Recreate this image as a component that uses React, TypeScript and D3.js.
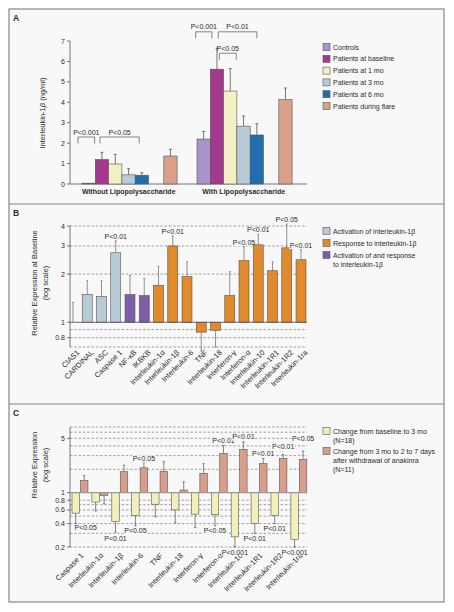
import React from 'react';
import * as d3 from 'd3';

// ---------- Panel A data ----------
const groupsA = ['Without Lipopolysaccharide', 'With Lipopolysaccharide'];
const seriesA = ['Controls', 'Patients at baseline', 'Patients at 1 mo', 'Patients at 3 mo', 'Patients at 6 mo', 'Patients during flare'];
const withoutLPS = [0.04, 1.2, 0.98, 0.45, 0.43, 1.37];
const withoutLPSErr = [0.04, 1.55, 1.45, 0.75, 0.55, 1.7];
const withLPS = [2.2, 5.62, 4.55, 2.83, 2.4, 4.13];
const withLPSErr = [2.57, 6.65, 5.65, 3.33, 2.95, 4.7];
const ticksA = [0, 1, 2, 3, 4, 5, 6, 7];
const bracketsA = [
  { group: 0, from: -0.3, to: 0.95, level: 2.3, label: 'P<0.001' },
  { group: 0, from: 1.35, to: 4.3, level: 2.3, label: 'P<0.05' },
  { group: 1, from: -0.1, to: 1.12, level: 7.45, label: 'P<0.001' },
  { group: 1, from: 1.6, to: 4.5, level: 7.45, label: 'P<0.01' },
  { group: 1, from: 1.68, to: 2.95, level: 6.4, label: 'P<0.05' },
];
const colorsA = ['#a894c8', '#a5378e', '#f3f0c4', '#b9cbd6', '#1f6fae', '#d9a18a'];

// ---------- Panel B data ----------
const categoriesB = ['CIAS1', 'CARDINAL', 'ASC', 'Caspase 1', 'NF-κB', 'IKBKB', 'Interleukin-1α', 'Interleukin-1β', 'Interleukin-6', 'TNF', 'Interleukin-18', 'Interferon-γ', 'Interferon-α', 'Interleukin-10', 'Interleukin-1R1', 'Interleukin-1R2', 'Interleukin-1ra'];
const roleB = [0, 0, 0, 0, 2, 2, 1, 1, 1, 1, 1, 1, 1, 1, 1, 1, 1];
const valuesB = [1.0, 1.49, 1.45, 2.72, 1.49, 1.47, 1.7, 3.0, 1.93, 0.867, 0.89, 1.47, 2.43, 3.05, 2.1, 2.92, 2.46];
const errB = [1.33, 1.82, 1.82, 3.23, 1.96, 1.88, 2.23, 3.47, 2.39, 0.66, 0.7, 2.07, 2.96, 3.55, 2.39, 4.12, 2.84];
const pB = ['', '', '', 'P<0.01', '', '', '', 'P<0.01', '', '', '', '', 'P<0.05', 'P<0.01', '', 'P<0.05', 'P<0.01'];
const legendB = ['Activation of interleukin-1β', 'Response to interleukin-1β', 'Activation of and response|to interleukin-1β'];
const colorsB = ['#b8ccd8', '#e08a2b', '#7d5ea8'];
const gridB = [4, 3, 2, 0.9, 0.8, 0.7];
const ticksB = [4, 3, 2, 1, 0.8];

// ---------- Panel C data ----------
const categoriesC = ['Caspase 1', 'Interleukin-1α', 'Interleukin-1β', 'Interleukin-6', 'TNF', 'Interleukin-18', 'Interferon-γ', 'Interferon-α', 'Interleukin-10', 'Interleukin-1R1', 'Interleukin-1R2', 'Interleukin-1ra'];
const baseTo3 = [0.545, 0.757, 0.425, 0.51, 0.71, 0.6, 0.53, 0.52, 0.27, 0.4, 0.51, 0.25];
const baseTo3Err = [0.4, 0.58, 0.31, 0.375, 0.49, 0.41, 0.355, 0.375, 0.2, 0.3, 0.4, 0.2];
const withdrawal = [1.43, 0.92, 1.86, 2.09, 1.89, 1.08, 1.77, 3.2, 3.58, 2.36, 2.74, 2.68];
const withdrawalErr = [1.66, 0.72, 2.26, 2.55, 2.5, 1.38, 2.36, 4.08, 4.5, 2.76, 3.1, 3.43];
const pBaseTo3 = ['P<0.05', '', 'P<0.01', 'P<0.05', '', '', '', 'P<0.05', 'P<0.001', 'P<0.01', 'P<0.01', 'P<0.001'];
const pWithdrawal = ['', '', '', 'P<0.05', '', '', '', 'P<0.01', 'P<0.01', 'P<0.01', 'P<0.01', 'P<0.05'];
// label nudges (px) for annotation placement
const pBaseTo3Shift = [[10, 4], [0, 5], [0, 6.6], [0, 5], [0, 5], [0, 5], [0, 5], [0, 5], [0, 5], [0, 5], [0, 4.5], [0, 5]];
const pWithdrawalShift = [[0, -4], [0, -4], [0, -4], [0, -2.7], [0, -4], [0, -4], [0, -4], [0, -4.3], [0, -5], [0, -4.7], [0, -8], [0, -12.7]];
const legendC = ['Change from baseline to 3 mo|(N=18)', 'Change from 3 mo to 2 to 7 days|after withdrawal of anakinra|(N=11)'];
const colorsC = ['#f2efb8', '#d99e8a'];
const gridC = [7, 6, 5, 4, 3, 2, 0.8, 0.7, 0.6, 0.5, 0.4, 0.3, 0.2];
const ticksC = [5, 1, 0.8, 0.6, 0.4, 0.2];

const FONT = '"Liberation Sans", Arial, sans-serif';
const TXT = '#2b2b2b';
const BG = '#f8f8f8';
const OUT = '#555';

function PLabel({ x, y, text, knock }: { x: number; y: number; text: string; knock?: boolean }) {
  const w = text.length * 3.75;
  return (
    <g>
      {knock && <rect x={x - w / 2 - 0.5} y={y - 5.5} width={w + 1} height={6.5} fill={BG} />}
      <text x={x} y={y} textAnchor="middle" fontSize={7} fill={TXT}>{text}</text>
    </g>
  );
}

function Legend({ x, y, items, colors, step, lineStep }: { x: number; y: number; items: string[]; colors: string[]; step: number[]; lineStep: number }) {
  return (
    <g>
      {items.map((it, i) => {
        const lines = it.split('|');
        return (
          <g key={i} transform={`translate(${x},${y + step[i]})`}>
            <rect x={0} y={-3.5} width={7} height={7} fill={colors[i]} stroke={OUT} strokeWidth={0.6} />
            {lines.map((l, j) => (
              <text key={j} x={10} y={2.5 + j * lineStep} fontSize={7} fill={TXT}>{l}</text>
            ))}
          </g>
        );
      })}
    </g>
  );
}

function PanelA() {
  const y = d3.scaleLinear().domain([0, 7]).range([184, 41]);
  const gx = d3.scaleBand().domain(groupsA).range([82, 312]);
  const unit = 13.3;
  const slot = [0, 1, 2, 3, 4, 6.15];
  const data = [withoutLPS, withLPS];
  const errs = [withoutLPSErr, withLPSErr];
  return (
    <g>
      <text x={13} y={21} fontSize={8.5} fontWeight="bold" fill={TXT}>A</text>
      <line x1={70} x2={70} y1={y(7)} y2={y(0)} stroke={OUT} strokeWidth={0.8} />
      <line x1={70} x2={307} y1={y(0)} y2={y(0)} stroke={OUT} strokeWidth={0.8} />
      {ticksA.map(t => (
        <g key={t}>
          <line x1={67} x2={70} y1={y(t)} y2={y(t)} stroke={OUT} strokeWidth={0.8} />
          <text x={65} y={y(t) + 2.5} fontSize={7} textAnchor="end" fill={TXT}>{t}</text>
        </g>
      ))}
      <text transform={`translate(45,113) rotate(-90)`} fontSize={7.5} textAnchor="middle" fill={TXT}>
        Interleukin-1<tspan fontStyle="italic">β</tspan> (ng/ml)
      </text>
      {groupsA.map((g, gi) => {
        const x0 = gx(g)!;
        return (
          <g key={g}>
            {data[gi].map((v, i) => {
              const bx = x0 + slot[i] * unit;
              const cx = bx + unit / 2;
              return (
                <g key={i}>
                  {errs[gi][i] > v && (
                    <g>
                      <line x1={cx} x2={cx} y1={y(v)} y2={y(errs[gi][i])} stroke={OUT} strokeWidth={0.8} />
                      <line x1={cx - 1.5} x2={cx + 1.5} y1={y(errs[gi][i])} y2={y(errs[gi][i])} stroke={OUT} strokeWidth={0.8} />
                    </g>
                  )}
                  <rect x={bx} y={y(v)} width={unit} height={y(0) - y(v)} fill={colorsA[i]} stroke={OUT} strokeWidth={0.6} />
                </g>
              );
            })}
            <text x={x0 + 3.55 * unit - 0.5} y={194} fontSize={7} fontWeight="bold" textAnchor="middle" fill={TXT}>{g}</text>
          </g>
        );
      })}
      {bracketsA.map((b, i) => {
        const x0 = gx(groupsA[b.group])!;
        const x1 = x0 + b.from * unit;
        const x2 = x0 + b.to * unit;
        const yt = y(b.level);
        return (
          <g key={i}>
            <path d={`M${x1},${yt + 6.5}V${yt}H${x2}V${yt + 6.5}`} fill="none" stroke={OUT} strokeWidth={0.7} />
            <text x={(x1 + x2) / 2} y={yt - 2.5} fontSize={7} textAnchor="middle" fill={TXT}>{b.label}</text>
          </g>
        );
      })}
      <Legend x={323} y={47} items={seriesA} colors={colorsA} step={[0, 11.8, 23.6, 35.4, 47.2, 59]} lineStep={9} />
    </g>
  );
}

function PanelB() {
  const y = d3.scaleLog().domain([0.7, 4]).range([347, 226]);
  const x = d3.scaleBand().domain(categoriesB).range([68, 306]).paddingInner(0.3).paddingOuter(0);
  const bw = x.bandwidth();
  return (
    <g>
      <text x={13} y={216} fontSize={8.5} fontWeight="bold" fill={TXT}>B</text>
      {gridB.map(g => (
        <line key={g} x1={70} x2={307} y1={y(g)} y2={y(g)} stroke="#666" strokeWidth={0.6} strokeDasharray="2.5,1.8" />
      ))}
      <line x1={70} x2={70} y1={y(4)} y2={y(0.7)} stroke={OUT} strokeWidth={0.8} />
      {ticksB.map(t => (
        <g key={t}>
          <line x1={67} x2={70} y1={y(t)} y2={y(t)} stroke={OUT} strokeWidth={0.8} />
          <text x={65} y={y(t) + 2.5} fontSize={7} textAnchor="end" fill={TXT}>{t}</text>
        </g>
      ))}
      <text transform={`translate(37,283) rotate(-90)`} fontSize={7.5} textAnchor="middle" fill={TXT}>Relative Expression at Baseline</text>
      <text transform={`translate(48,283) rotate(-90)`} fontSize={7.5} textAnchor="middle" fill={TXT}>(log scale)</text>
      {categoriesB.map((c, i) => {
        const bx = x(c)!;
        const cx = bx + bw / 2;
        const v = valuesB[i];
        const e = errB[i];
        const top = Math.min(y(v), y(1));
        const h = Math.abs(y(v) - y(1));
        return (
          <g key={c}>
            <line x1={cx} x2={cx} y1={y(v)} y2={y(e)} stroke="#777" strokeWidth={0.8} />
            <line x1={cx - 1} x2={cx + 1} y1={y(e)} y2={y(e)} stroke="#777" strokeWidth={0.8} />
            {h > 0.3 && <rect x={bx} y={top} width={bw} height={h} fill={colorsB[roleB[i]]} stroke={OUT} strokeWidth={0.6} />}
            {pB[i] && <PLabel x={cx} y={y(e) - 1.8} text={pB[i]} knock />}
            <text transform={`translate(${cx + 7},353) rotate(-45)`} fontSize={7.5} textAnchor="end" fill={TXT}>{c}</text>
          </g>
        );
      })}
      <line x1={70} x2={307} y1={y(1)} y2={y(1)} stroke={OUT} strokeWidth={0.9} />
      <Legend x={323} y={231} items={legendB} colors={colorsB} step={[0, 12, 24]} lineStep={9} />
    </g>
  );
}

function PanelC() {
  const y = d3.scaleLog().domain([0.2, 7]).range([547, 427]);
  const x = d3.scaleBand().domain(categoriesC).range([72, 306.8]).paddingInner(0.2).paddingOuter(0);
  const sub = d3.scaleBand().domain(['a', 'b']).range([0, x.bandwidth()]).paddingInner(0.12);
  const sw = sub.bandwidth();
  const series = [
    { key: 'a', v: baseTo3, e: baseTo3Err, p: pBaseTo3, s: pBaseTo3Shift, color: colorsC[0] },
    { key: 'b', v: withdrawal, e: withdrawalErr, p: pWithdrawal, s: pWithdrawalShift, color: colorsC[1] },
  ];
  return (
    <g>
      <text x={13} y={416} fontSize={8.5} fontWeight="bold" fill={TXT}>C</text>
      {gridC.map(g => (
        <line key={g} x1={70} x2={307} y1={y(g)} y2={y(g)} stroke="#666" strokeWidth={0.6} strokeDasharray="2.5,1.8" />
      ))}
      <line x1={70} x2={70} y1={y(7)} y2={y(0.2)} stroke={OUT} strokeWidth={0.8} />
      {ticksC.map(t => (
        <g key={t}>
          <line x1={67} x2={70} y1={y(t)} y2={y(t)} stroke={OUT} strokeWidth={0.8} />
          <text x={65} y={y(t) + 2.5} fontSize={7} textAnchor="end" fill={TXT}>{t}</text>
        </g>
      ))}
      <text transform={`translate(37,465) rotate(-90)`} fontSize={7.5} textAnchor="middle" fill={TXT}>Relative Expression</text>
      <text transform={`translate(48,465) rotate(-90)`} fontSize={7.5} textAnchor="middle" fill={TXT}>(log scale)</text>
      {categoriesC.map((c, i) => {
        const x0 = x(c)!;
        return (
          <g key={c}>
            {series.map(sr => {
              const bx = x0 + sub(sr.key)!;
              const cx = bx + sw / 2;
              const v = sr.v[i];
              const e = sr.e[i];
              const top = Math.min(y(v), y(1));
              const h = Math.abs(y(v) - y(1));
              return (
                <g key={sr.key}>
                  <line x1={cx} x2={cx} y1={y(v)} y2={y(e)} stroke={OUT} strokeWidth={0.7} />
                  <line x1={cx - 1.2} x2={cx + 1.2} y1={y(e)} y2={y(e)} stroke={OUT} strokeWidth={0.7} />
                  <rect x={bx} y={top} width={sw} height={h} fill={sr.color} stroke={OUT} strokeWidth={0.6} />
                </g>
              );
            })}
            <text transform={`translate(${x0 + x.bandwidth() / 2 + 4},556) rotate(-45)`} fontSize={7.5} textAnchor="end" fill={TXT}>{c}</text>
          </g>
        );
      })}
      <line x1={70} x2={307} y1={y(1)} y2={y(1)} stroke="#999" strokeWidth={1.3} />
      {categoriesC.map((c, i) => (
        <g key={c + 'p'}>
          {series.map(sr => {
            if (!sr.p[i]) return null;
            const cx = x(c)! + sub(sr.key)! + sw / 2;
            const [dx, dy] = sr.s[i];
            return <PLabel key={sr.key} x={cx + dx} y={y(sr.e[i]) + dy + 2.5} text={sr.p[i]} knock />;
          })}
        </g>
      ))}
      <Legend x={323} y={431} items={legendC} colors={colorsC} step={[0, 20]} lineStep={9} />
    </g>
  );
}

export default function App() {
  return (
    <svg width={454} height={612} style={{ position: 'absolute', left: 0, top: 0, fontFamily: FONT }}>
      <rect x={0} y={0} width={454} height={612} fill="#fff" />
      <rect x={9} y={9} width={435} height={593} fill={BG} stroke="#888" strokeWidth={1.2} />
      <line x1={9} x2={444} y1={204} y2={204} stroke="#888" strokeWidth={1.2} />
      <line x1={9} x2={444} y1={404} y2={404} stroke="#888" strokeWidth={1.2} />
      <PanelA />
      <PanelB />
      <PanelC />
    </svg>
  );
}
